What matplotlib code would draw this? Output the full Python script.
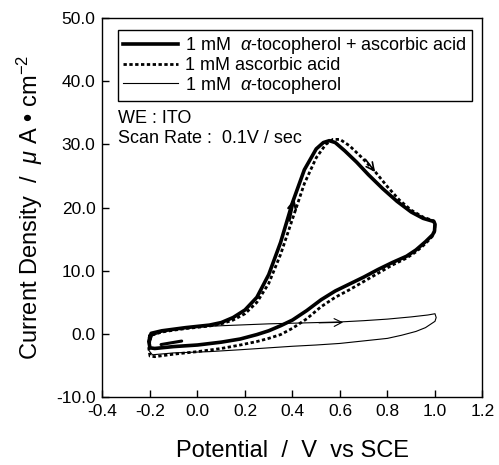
import matplotlib
matplotlib.use("Agg")
import matplotlib.pyplot as plt

plt.rcParams['font.family'] = ['Liberation Sans', 'DejaVu Sans']
plt.rcParams['mathtext.fontset'] = 'custom'
plt.rcParams['mathtext.rm'] = 'Liberation Sans'
plt.rcParams['mathtext.it'] = 'Liberation Sans:italic'

# Solid: 1 mM alpha-tocopherol + ascorbic acid (closed CV loop)
v_mix = [-0.20, -0.195, -0.15, -0.10, -0.05, 0.00, 0.05, 0.10, 0.15, 0.20, 0.25, 0.30, 0.35,
         0.40, 0.45, 0.50, 0.53, 0.555, 0.58, 0.62, 0.67, 0.72, 0.78, 0.84, 0.90, 0.95, 0.995,
         1.00, 0.998, 0.99, 0.96, 0.92, 0.88, 0.82, 0.76, 0.70, 0.64, 0.58, 0.52, 0.46, 0.40,
         0.35, 0.30, 0.25, 0.18, 0.10, 0.00, -0.10, -0.18, -0.20, -0.205, -0.20]
i_mix = [-0.4, 0.1, 0.5, 0.75, 1.0, 1.2, 1.4, 1.8, 2.6, 3.8, 5.8, 9.4, 14.5,
         20.8, 26.0, 29.3, 30.3, 30.6, 30.3, 29.0, 27.2, 25.2, 23.0, 21.0, 19.3, 18.3, 17.8,
         17.4, 16.3, 15.7, 14.6, 13.3, 12.3, 11.3, 10.2, 9.0, 7.9, 6.8, 5.4, 3.7, 2.2,
         1.3, 0.5, -0.1, -0.8, -1.3, -1.75, -2.0, -2.3, -2.2, -1.2, -0.4]

# Dotted: 1 mM ascorbic acid
v_asc = [-0.20, -0.195, -0.15, -0.10, -0.05, 0.00, 0.05, 0.10, 0.15, 0.20, 0.25, 0.30, 0.35,
         0.40, 0.45, 0.50, 0.54, 0.57, 0.60, 0.64, 0.69, 0.75, 0.80, 0.85, 0.90, 0.95, 0.995,
         1.00, 0.998, 0.99, 0.96, 0.92, 0.88, 0.82, 0.76, 0.70, 0.64, 0.58, 0.52, 0.46, 0.40,
         0.35, 0.30, 0.25, 0.18, 0.10, 0.00, -0.10, -0.18, -0.20, -0.205, -0.20]
i_asc = [-1.0, -0.2, 0.3, 0.6, 0.85, 1.05, 1.25, 1.6, 2.2, 3.2, 5.0, 8.0, 12.6,
         18.2, 23.8, 27.9, 30.0, 30.8, 30.8, 29.8, 28.0, 25.6, 23.3, 21.2, 19.6, 18.5, 17.9,
         17.3, 16.2, 15.5, 14.3, 13.0, 12.0, 10.9, 9.6, 8.3, 7.0, 5.8, 4.3, 2.4, 0.9,
         -0.1, -0.7, -1.2, -1.75, -2.3, -2.8, -3.2, -3.6, -3.5, -2.3, -1.0]

# Thin: 1 mM alpha-tocopherol
v_toc = [-0.20, -0.19, -0.15, -0.10, -0.05, 0.00, 0.10, 0.20, 0.30, 0.40, 0.50, 0.60, 0.70,
         0.80, 0.90, 0.97, 1.00, 1.005, 1.00, 0.96, 0.92, 0.86, 0.80, 0.70, 0.60, 0.50, 0.40,
         0.30, 0.18, 0.05, -0.10, -0.19, -0.205, -0.20]
i_toc = [-1.4, -0.3, 0.3, 0.7, 0.95, 1.1, 1.3, 1.45, 1.6, 1.7, 1.8, 1.9, 2.1,
         2.35, 2.7, 3.0, 3.2, 2.6, 2.0, 1.0, 0.4, -0.2, -0.7, -1.1, -1.5, -1.75, -1.95,
         -2.2, -2.5, -2.8, -3.0, -3.3, -2.6, -1.4]

labels = [r"1 mM  $\alpha$-tocopherol + ascorbic acid", "1 mM ascorbic acid", r"1 mM  $\alpha$-tocopherol"]
xticks = [-0.4, -0.2, 0.0, 0.2, 0.4, 0.6, 0.8, 1.0, 1.2]
yticks = [-10, 0, 10, 20, 30, 40, 50]

fig = plt.figure(figsize=(4.99, 4.65), dpi=100)
ax = fig.add_axes([0.2054, 0.146, 0.7615, 0.815])

ax.plot(v_mix, i_mix, color='black', lw=2.6, label=labels[0], solid_joinstyle='round')
ax.plot(v_asc, i_asc, color='black', lw=2.0, linestyle=(0, (1.2, 0.9)), label=labels[1])
ax.plot(v_toc, i_toc, color='black', lw=0.8, label=labels[2])

# direction arrows
ax.annotate('', xy=(0.41, 21.8), xytext=(0.385, 17.5),
            arrowprops=dict(arrowstyle='->', color='black', lw=1.6, mutation_scale=14))
ax.annotate('', xy=(0.755, 25.3), xytext=(0.70, 28.0),
            arrowprops=dict(arrowstyle='->', color='black', lw=1.2, mutation_scale=14))
ax.annotate('', xy=(0.625, 1.85), xytext=(0.50, 1.75),
            arrowprops=dict(arrowstyle='->', color='black', lw=0.8, mutation_scale=14))
ax.annotate('', xy=(-0.165, -1.75), xytext=(-0.055, -1.05),
            arrowprops=dict(arrowstyle='-', color='black', lw=2.2))

ax.set_xlim(-0.4, 1.2)
ax.set_ylim(-10, 50)
ax.set_xticks(xticks)
ax.set_yticks(yticks)
ax.set_xticklabels([f"{t:.1f}" for t in xticks])
ax.set_yticklabels([f"{t:.1f}" for t in yticks])
ax.tick_params(direction='in', length=5, width=1, labelsize=12.5, pad=5)
for s in ax.spines.values():
    s.set_linewidth(1.0)

ax.set_xlabel("Potential  /  V  vs SCE", fontsize=17, labelpad=15)
ax.set_ylabel("Current Density  /  $\\mu$ A \u2022 cm$^{-2}$", fontsize=17, labelpad=8)

leg = ax.legend(loc='upper left', bbox_to_anchor=(0.041, 0.97), borderaxespad=0,
                fontsize=13, frameon=True, fancybox=False, framealpha=1,
                edgecolor='black', handlelength=3.0, handletextpad=0.4,
                labelspacing=0.05, borderpad=0.3)
leg.get_frame().set_linewidth(1.0)

ax.text(0.041, 0.735, "WE : ITO", transform=ax.transAxes, fontsize=13, va='center')
ax.text(0.041, 0.683, "Scan Rate :  0.1V / sec", transform=ax.transAxes, fontsize=13, va='center')

fig.savefig("out.png", dpi=100)
